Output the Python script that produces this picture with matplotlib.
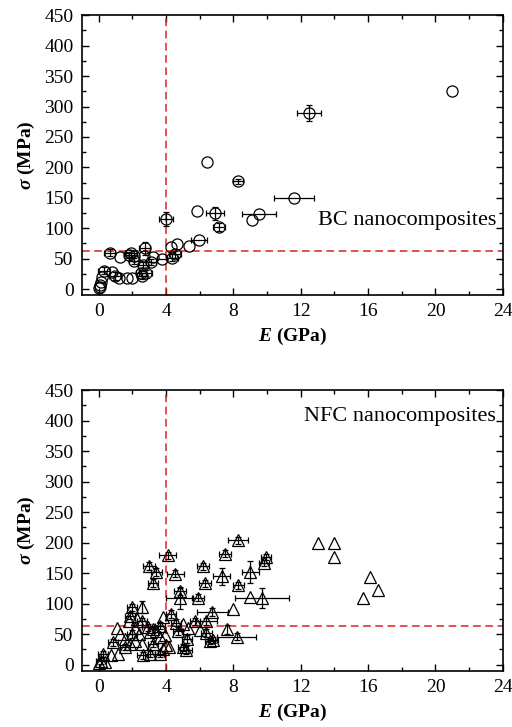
import matplotlib
matplotlib.use('Agg')
import matplotlib.pyplot as plt
import numpy as np
from matplotlib.ticker import MultipleLocator

plt.rcParams['font.family'] = ['Liberation Serif', 'DejaVu Serif']
plt.rcParams['mathtext.fontset'] = 'custom'
plt.rcParams['mathtext.it'] = 'Liberation Serif:italic:bold'
plt.rcParams['mathtext.rm'] = 'Liberation Serif:bold'

# BC nanocomposites: modulus E (GPa), strength sigma (MPa), error bars
bc_E = [21.0, 12.5, 6.41, 8.26, 11.6, 9.5, 9.1, 6.92, 5.81, 3.99, 7.12, 5.95,
        5.38, 4.64, 4.27, 4.55, 4.35, 3.77, 3.23, 3.13, 2.72, 2.68, 2.64, 2.78,
        2.56, 2.5, 2.1, 2.1, 1.9, 1.8, 1.29, 0.64, 1.95, 1.69, 1.18, 0.98,
        0.8, 0.32, 0.22, 0.16, 0.06, 0.0, 0.05]
bc_s = [325, 289.5, 209, 177, 150.5, 123.7, 113.8, 124.6, 128.6, 115, 101.8, 81,
        71, 74.4, 69, 57, 51.4, 48.8, 52.5, 44.8, 66.8, 54, 39.4, 26.8,
        21.3, 26.8, 46, 54, 58.6, 56, 52, 59.6, 18.6, 17.5, 18.6, 21.3,
        28.5, 30, 20, 12, 6.5, 1, 4]
bc_Ee = [0, 0.72, 0, 0.3, 1.2, 1.0, 0, 0.54, 0, 0.42, 0.35, 0.5,
         0, 0, 0, 0.35, 0.35, 0.3, 0, 0.3, 0.3, 0, 0.3, 0.4,
         0.3, 0.3, 0.3, 0, 0.35, 0.3, 0, 0.35, 0, 0, 0, 0.35,
         0, 0.35, 0, 0, 0, 0, 0]
bc_se = [0, 13.7, 0, 4, 0, 0, 0, 10.4, 0, 11.8, 6, 0,
         0, 0, 0, 6, 6, 0, 0, 5, 10, 0, 5, 5,
         5, 5, 5, 0, 6, 5, 0, 6, 0, 0, 0, 6,
         0, 6, 0, 0, 0, 0, 0]

# NFC nanocomposites
nfc_E = [13.0, 14.0, 14.0, 16.1, 16.6, 15.7, 8.26, 7.5, 9.94, 9.83, 4.1, 3.0,
         3.43, 3.2, 4.54, 4.82, 4.82, 6.2, 6.31, 5.91, 7.3, 9.0, 8.3, 9.0,
         9.72, 8.0, 6.74, 2.54, 1.98, 1.84, 1.8, 2.3, 2.58, 1.09, 0.85, 1.25,
         0.26, 0.16, 0.0, 0.36, 0.75, 1.15, 1.55, 1.84, 2.14, 2.0, 2.54, 2.6,
         3.04, 3.2, 3.62, 3.8, 3.99, 3.93, 2.94, 3.24, 3.43, 3.04, 3.62, 3.8,
         4.3, 4.6, 4.7, 5.0, 5.26, 5.0, 5.2, 5.3, 5.7, 6.0, 6.4, 6.4,
         6.6, 6.8, 7.6, 8.2, 3.62, 4.2, 2.4, 1.55, 2.14]
nfc_s = [200, 200, 176, 143, 122.6, 109, 203.6, 181.7, 176, 166, 179, 161.5,
         152, 134, 149, 120, 109.5, 161, 133.5, 109.5, 145, 151.6, 130, 110.5,
         109.5, 90.8, 86.5, 95, 94, 80, 72, 75, 71, 60, 36.6, 50,
         17.5, 6.6, 3, 5, 15, 16.8, 28.5, 34, 39, 50, 34, 15,
         16.8, 34, 18, 26, 31.5, 48, 61, 58, 54.5, 53, 64, 77.6,
         83, 69, 55, 66, 42, 28.5, 24, 60.5, 71, 56, 52, 71,
         38, 41, 57.6, 46, 46, 29, 50, 42, 60.5]
nfc_Ee = [0, 0, 0, 0, 0, 0, 0.58, 0.35, 0.3, 0.3, 0.5, 0.35,
          0.35, 0.3, 0.5, 0.35, 0.8, 0.35, 0.35, 0.35, 0.5, 0.5, 0.35, 0,
          1.6, 0, 0.93, 0, 0.3, 0.3, 0, 0, 0.3, 0, 0.3, 0,
          0.3, 0.3, 0, 0, 0, 0, 0.3, 0, 0, 0.3, 0, 0.3,
          0.3, 0.3, 0.3, 0, 0, 0, 0.35, 0.3, 0, 0, 0.3, 0,
          0.3, 0.3, 0.3, 0, 0.3, 0.3, 0.35, 0, 0.3, 0, 0.3, 0.6,
          0.3, 0.3, 0, 1.16, 0, 0, 0, 0, 0]
nfc_se = [0, 0, 0, 0, 0, 0, 6, 6, 5, 5, 6, 6,
          6, 6, 6, 6, 18, 6, 6, 6, 14, 18, 6, 0,
          16, 0, 6, 10, 6, 6, 0, 0, 6, 0, 6, 0,
          5, 5, 0, 0, 0, 0, 5, 0, 0, 6, 0, 5,
          5, 5, 5, 0, 0, 0, 6, 6, 0, 0, 6, 0,
          6, 6, 6, 0, 6, 6, 6, 0, 6, 0, 6, 6,
          5, 5, 8, 6, 0, 0, 0, 0, 0]

E_limit = 4
s_limit = 63

fig = plt.figure(figsize=(5.12, 7.27), dpi=100)
ax1 = fig.add_axes([0.160, 0.594, 0.822, 0.385])
ax2 = fig.add_axes([0.160, 0.0774, 0.822, 0.386])

panels = [(ax1, bc_E, bc_s, bc_Ee, bc_se, 'o', 'BC nanocomposites'),
          (ax2, nfc_E, nfc_s, nfc_Ee, nfc_se, '^', 'NFC nanocomposites')]

for ax, E, s, Ee, se, mk, name in panels:
    # zero error -> no bar and no cap
    xe = np.where(np.array(Ee) > 0, Ee, np.nan)
    ye = np.where(np.array(se) > 0, se, np.nan)
    ax.errorbar(E, s, xerr=xe, yerr=ye, fmt='none', ecolor='black',
                elinewidth=0.9, capsize=2.5, capthick=0.9, zorder=3)
    ax.plot(E, s, mk, ls='none', ms=8 if mk == 'o' else 8.5,
            mfc='none', mec='black', mew=0.9, zorder=4)
    ax.axvline(E_limit, color='#e02020', ls=(0, (5, 3)), lw=1.1, zorder=2)
    ax.axhline(s_limit, color='#e02020', ls=(0, (5, 3)), lw=1.1, zorder=2)
    ax.set_xlim(-1, 24)
    ax.set_ylim(-10, 450)
    ax.xaxis.set_major_locator(MultipleLocator(4))
    ax.xaxis.set_minor_locator(MultipleLocator(2))
    ax.yaxis.set_major_locator(MultipleLocator(50))
    ax.yaxis.set_minor_locator(MultipleLocator(25))
    ax.tick_params(which='both', direction='in', top=True, right=True,
                   labelsize=14, width=1.0)
    ax.tick_params(which='major', length=5, pad=6)
    ax.tick_params(which='minor', length=3)
    for sp in ax.spines.values():
        sp.set_linewidth(1.2)
    ax.set_xlabel(r'$\mathit{E}$ (GPa)', fontsize=14, fontweight='bold', labelpad=4)
    ax.set_ylabel(r'$\mathit{\sigma}$ (MPa)', fontsize=14, fontweight='bold', labelpad=5)

ax1.text(23.6, 113, 'BC nanocomposites', ha='right', va='center', fontsize=16)
ax2.text(23.6, 406, 'NFC nanocomposites', ha='right', va='center', fontsize=16)

fig.savefig('out.png', dpi=100)
